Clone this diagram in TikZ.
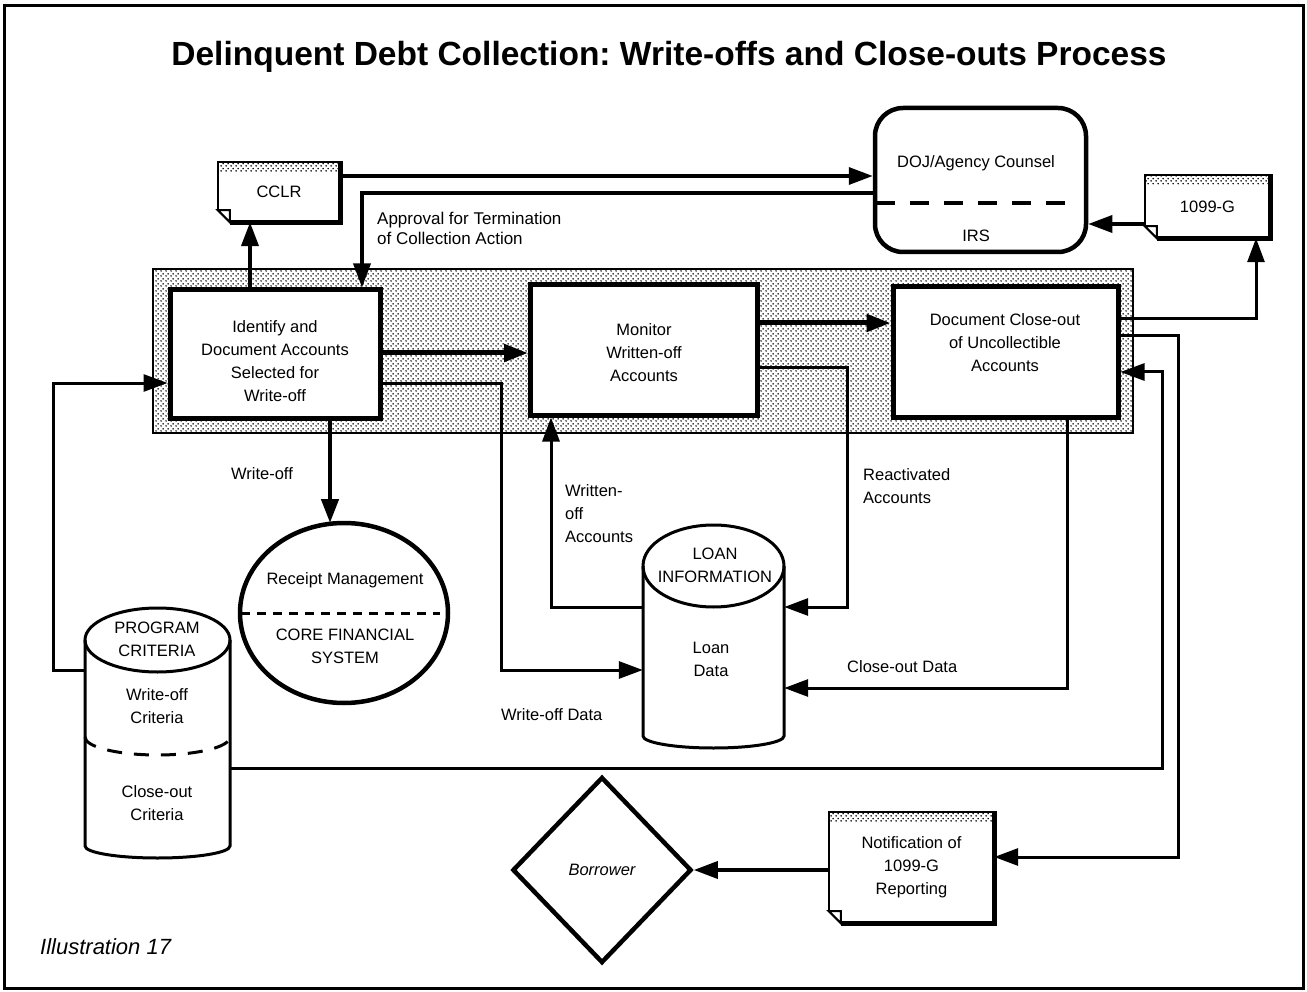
\documentclass[tikz,border=0pt]{standalone}
\usepackage{fontspec}
\setmainfont{Liberation Sans}
\usetikzlibrary{arrows.meta,shapes.geometric,patterns.meta,calc}
\frenchspacing

% fine stipple used for the process band and the paper headers
\tikzdeclarepattern{
  name=stipple,
  type=uncolored,
  bottom left={(0pt,0pt)},
  top right={(5pt,5pt)},
  tile size={(5pt,5pt)},
  code={
    \fill (1.25pt,1.25pt) circle (1pt);
    \fill (3.75pt,3.75pt) circle (1pt);
  }
}

% decorations of a paper document drawn around a named node
\newcommand\paperdoc[1]{%
  \fill[pattern=stipple] ([xshift=1pt,yshift=-1pt]#1.north west) rectangle ([xshift=-2pt,yshift=-10pt]#1.north east);
  \draw[line width=2pt] ([yshift=12pt]#1.south west) -- (#1.north west) -- ([xshift=1pt]#1.north east);
  \draw[line width=5pt] ([yshift=1pt]#1.north east) -- (#1.south east) -- ([xshift=12pt]#1.south west);
  \draw[line width=2pt,fill=white] ([yshift=12pt]#1.south west) -- ([xshift=12pt]#1.south west)
        -- ([xshift=12pt,yshift=12pt]#1.south west) -- cycle;
}

\tikzset{
  >={Triangle[length=24pt,width=17pt]},
  txt/.style={font=\fontsize{16.5}{23}\selectfont, align=center, inner sep=0pt},
  lbl/.style={font=\fontsize{16.5}{23}\selectfont, align=left, inner sep=0pt, anchor=west},
  procbox/.style={draw, fill=white, line width=5pt, rectangle, inner sep=0pt},
  docbox/.style={fill=white, rectangle, inner sep=0pt, font=\fontsize{16.5}{23}\selectfont, align=center},
  area/.style={rectangle, inner sep=0pt},
  wire/.style={line width=3.5pt},
  heavywire/.style={line width=5pt},
  cyl/.style={line width=3pt},
}

\begin{document}
\begin{tikzpicture}[x=1pt,y=-1pt]
\useasboundingbox (0,0) rectangle (1307,992);

% frame
\draw[line width=3pt] (4,6) rectangle (1303,988);

% title
\node[font=\fontsize{33.5}{36}\selectfont\bfseries, inner sep=0pt] (title) at (669,57)
  {Delinquent Debt Collection: Write-offs and Close-outs Process};

% stippled process band
\node[area, minimum width=980pt, minimum height=164pt, draw, line width=2pt,
      pattern=stipple] (band) at (643,351) {};

% process boxes
\node[procbox, minimum width=210pt, minimum height=128pt] (ident) at (275,354) {};
\node[txt] (identtxt) at (275,361) {Identify and\\Document Accounts\\Selected for\\Write-off};
\node[procbox, minimum width=227pt, minimum height=130pt] (monitor) at (644,350) {};
\node[txt] (monitortxt) at (644,353) {Monitor\\Written-off\\Accounts};
\node[procbox, minimum width=225pt, minimum height=130pt] (closeout) at (1005.5,352) {};
\node[txt] (closeouttxt) at (1005,343) {Document Close-out\\of Uncollectible\\Accounts};

% documents
\node[docbox, minimum width=122pt, minimum height=60pt] (cclr) at (279,192) {CCLR};
\paperdoc{cclr}
\node[docbox, minimum width=125pt, minimum height=63pt] (t1099) at (1207.5,206.5) {1099-G};
\paperdoc{t1099}
\node[docbox, minimum width=165pt, minimum height=111pt] (notif) at (911.5,867.5) {Notification of\\1099-G\\Reporting};
\paperdoc{notif}

% DOJ / IRS
\node[draw, line width=4.5pt, rounded corners=28pt, rectangle, minimum width=211pt,
      minimum height=144pt, inner sep=0pt] (doj) at (980.5,180) {};
\node[txt] (dojtxt) at (976,163) {DOJ/Agency Counsel};
\node[txt] (irstxt) at (976,236) {IRS};
\draw[line width=4pt, dash pattern=on 19pt off 15pt] ([xshift=3pt]doj.west |- 0,203) -- ([xshift=-16pt]doj.east |- 0,203);

% core financial system
\node[draw, ellipse, line width=4.5pt, minimum width=208pt, minimum height=180pt, inner sep=0pt] (cfs) at (344,613) {};
\node[txt] (rmtxt) at (345,580) {Receipt Management};
\node[txt] (cfstxt) at (345,646) {CORE FINANCIAL\\SYSTEM};
\draw[line width=3pt, dash pattern=on 9pt off 7pt] ([xshift=3pt]cfs.west) -- ([xshift=-10pt]cfs.east);

% program criteria store
\node[area, minimum width=145pt, minimum height=250pt] (prog) at (157.5,733) {};
\draw[cyl] (157.5,640) ellipse [x radius=72.5pt, y radius=32pt];
\draw[cyl] (85,640) -- (85,846) arc [start angle=180, end angle=360, x radius=72.5pt, y radius=12pt] -- (230,640);
\draw[cyl, dash pattern=on 15pt off 12pt] (85,737) arc [start angle=180, end angle=360, x radius=72.5pt, y radius=18pt];
\node[txt] (progtxt) at (157,639) {PROGRAM\\CRITERIA};
\node[txt] (wocrit) at (157,706) {Write-off\\Criteria};
\node[txt] (cocrit) at (157,803) {Close-out\\Criteria};

% loan information store
\node[area, minimum width=141pt, minimum height=223pt] (loan) at (713.5,636.5) {};
\draw[cyl] (713.5,566) ellipse [x radius=70.5pt, y radius=41pt];
\draw[cyl] (643,566) -- (643,736) arc [start angle=180, end angle=360, x radius=70.5pt, y radius=12pt] -- (784,566);
\node[txt] (loaninfo) at (715,565) {LOAN\\INFORMATION};
\node[txt] (loandata) at (711,659) {Loan\\Data};

% borrower
\node[draw, diamond, line width=4.5pt, minimum width=179pt, minimum height=186pt, inner sep=0pt,
      font=\fontsize{16.5}{23}\selectfont\itshape] (borrower) at (602,870) {Borrower};

% connectors
\draw[wire, line width=4pt, ->] (ident.north -| 250,0) -- (cclr.south -| 250,0);
\draw[wire, ->] (cclr.east |- 0,176) -- (doj.west |- 0,176);
\draw[wire, ->] (doj.west |- 0,193) -| (ident.north -| 362,0);
\draw[wire, ->] (t1099.west |- 0,224) -- (doj.east |- 0,224);
\draw[wire, line width=3pt, ->] (closeout.east |- 0,319) -| (t1099.south -| 1256,0);
\draw[heavywire, ->] (ident.east |- 0,353) -- (monitor.west |- 0,353);
\draw[heavywire, ->] (monitor.east |- 0,323) -- (closeout.west |- 0,323);
\draw[wire, line width=3pt, ->] (ident.east |- 0,383) -| (501,670) -- (loan.west |- 0,670);
\draw[wire, line width=3pt, ->] (monitor.east |- 0,368) -| (847,607) -- (loan.east |- 0,607);
\draw[wire, line width=3pt, ->] (loan.west |- 0,607) -| (monitor.south -| 551,0);
\draw[wire, line width=3pt, ->] (closeout.south -| 1067,0) |- (loan.east |- 0,688);
\draw[wire, line width=4.5pt, ->] (ident.south -| 330,0) -- (330,523);
\draw[wire, line width=3pt, ->] (prog.west |- 0,670) -| (53,383) -- (ident.west |- 0,383);
\draw[wire, line width=3pt, ->] (prog.east |- 0,768) -| (1162,372) -- (closeout.east |- 0,372);
\draw[wire, line width=3pt, ->] (closeout.east |- 0,336) -| (1178,857) -- (notif.east |- 0,857);
\draw[wire, ->] (notif.west |- borrower.east) -- (borrower.east);

% connector labels
\node[lbl, font=\fontsize{17}{20}\selectfont] (approval) at (377,228) {Approval for Termination\\of Collection Action};
\node[txt] (wolbl) at (262,474) {Write-off};
\node[lbl] (wrlbl) at (565,514) {Written-\\off\\Accounts};
\node[lbl] (reactlbl) at (863,486) {Reactivated\\Accounts};
\node[lbl] (codata) at (847,667) {Close-out Data};
\node[lbl] (wodata) at (501,715) {Write-off Data};

% caption
\node[lbl, font=\fontsize{22}{24}\selectfont\itshape] (caption) at (40,947) {Illustration 17};
\end{tikzpicture}
\end{document}
